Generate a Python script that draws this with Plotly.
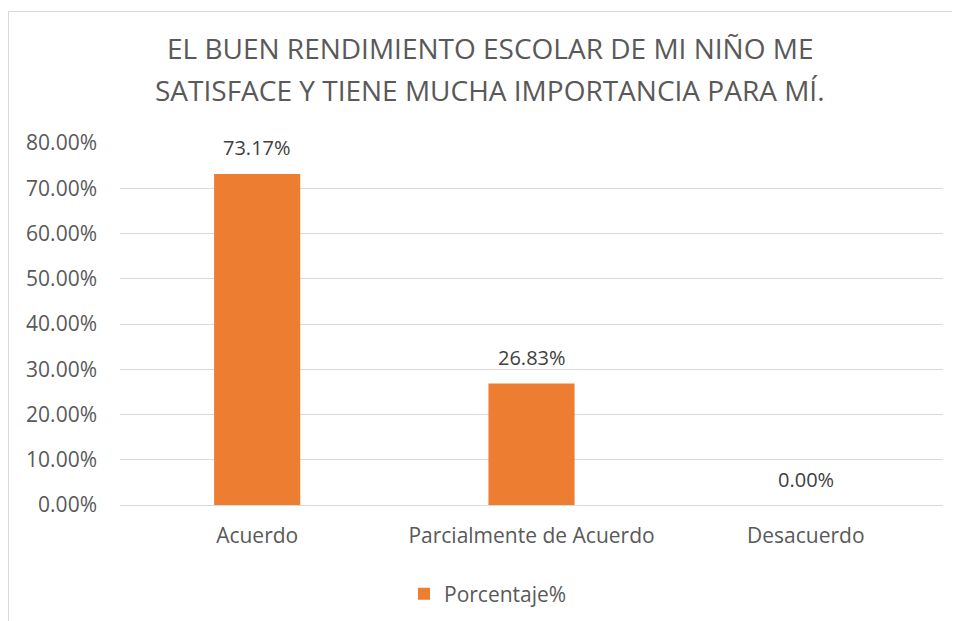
import plotly.graph_objects as go

categories = ["Acuerdo", "Parcialmente de Acuerdo", "Desacuerdo"]
values = [73.17, 26.83, 0.00]
series_name = "Porcentaje%"
tick_vals = [0, 10, 20, 30, 40, 50, 60, 70, 80]
tick_text = [f"{v:.2f}%" for v in tick_vals]
title_lines = ["EL BUEN RENDIMIENTO ESCOLAR DE MI NIÑO ME",
               "SATISFACE Y TIENE MUCHA IMPORTANCIA PARA MÍ."]

FONT = "Open Sans"
GREY = "#595959"
DARK = "#404040"
ORANGE = "#ED7D31"

W, H = 960, 621
L, R, T, B = 112, 25, 135, 124
pw, ph = W - L - R, H - T - B

def px_to_paper_x(px):
    return (px - L) / pw

def py_to_paper_y(py):
    return (H - B - py) / ph

fig = go.Figure()
fig.add_trace(go.Bar(
    x=categories, y=values, name=series_name,
    marker=dict(color=ORANGE, line=dict(width=0)),
    showlegend=True,
))

for c, v in zip(categories, values):
    fig.add_annotation(x=c, y=v, xref="x", yref="y", text=f"{v:.2f}%",
                       showarrow=False, yanchor="middle", yshift=26,
                       font=dict(family=FONT, size=20, color=DARK))

for line, ypx in zip(title_lines, [40, 82]):
    fig.add_annotation(x=px_to_paper_x(482), y=py_to_paper_y(ypx),
                       xref="paper", yref="paper", text=line, showarrow=False,
                       xanchor="center", yanchor="middle",
                       font=dict(family=FONT, size=28, color=GREY))

fig.add_shape(type="rect", xref="paper", yref="paper",
              x0=px_to_paper_x(0.5), x1=px_to_paper_x(975),
              y0=py_to_paper_y(640), y1=py_to_paper_y(3.5),
              line=dict(color="#D9D9D9", width=1), fillcolor="rgba(0,0,0,0)",
              layer="below")

fig.update_layout(
    width=W, height=H,
    margin=dict(l=L, r=R, t=T, b=B),
    paper_bgcolor="white", plot_bgcolor="white",
    font=dict(family=FONT, size=21, color=GREY),
    bargap=0.686,
    showlegend=True,
    legend=dict(orientation="h", x=px_to_paper_x(480),
                xanchor="center", y=py_to_paper_y(586), yanchor="middle",
                font=dict(family=FONT, size=21, color=GREY),
                itemwidth=30),
    xaxis=dict(showgrid=False, showline=False, ticks="",
               tickfont=dict(family=FONT, size=21, color=GREY), ticklabelstandoff=16),
    yaxis=dict(range=[0, 80], tickvals=tick_vals, ticktext=tick_text,
               showgrid=True, gridcolor="#D9D9D9", gridwidth=1,
               zeroline=True, zerolinecolor="#D9D9D9", zerolinewidth=1,
               showline=False, ticks="", ticklabelstandoff=22,
               tickfont=dict(family=FONT, size=21, color=GREY)),
)

fig.write_html("out.html")
